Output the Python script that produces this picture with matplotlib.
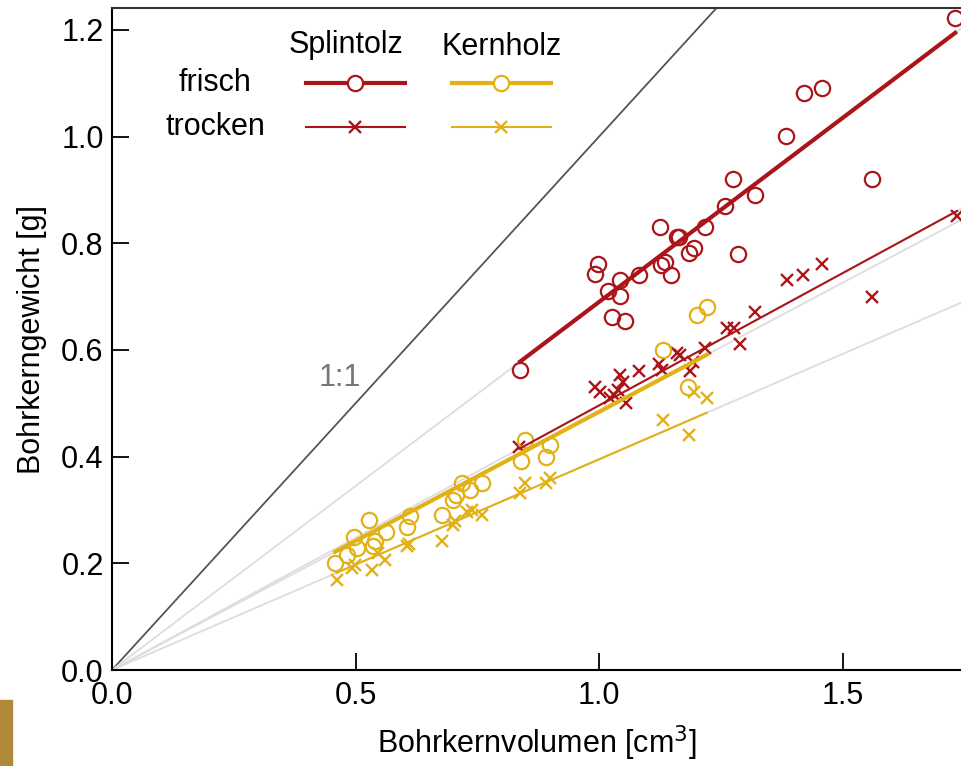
import numpy as np
import matplotlib
matplotlib.use('Agg')
from matplotlib import pyplot as plt
from matplotlib.patches import Rectangle

plt.rcParams['font.family'] = ['Liberation Sans', 'DejaVu Sans']

# Splintholz frisch (circles)
splint_frisch_x = [0.838, 0.992, 0.997, 1.043, 1.019, 1.042, 1.081, 1.127, 1.136, 1.147,
                   1.124, 1.159, 1.165, 1.194, 1.185, 1.218, 1.258, 1.274, 1.320, 1.286,
                   1.384, 1.421, 1.457, 1.560, 1.731, 1.026, 1.054]
splint_frisch_y = [0.562, 0.742, 0.761, 0.732, 0.710, 0.701, 0.741, 0.759, 0.765, 0.741,
                   0.830, 0.811, 0.811, 0.791, 0.781, 0.830, 0.870, 0.920, 0.891, 0.780,
                   1.001, 1.082, 1.091, 0.920, 1.222, 0.662, 0.655]
# Splintholz trocken (x)
splint_trocken_x = [0.836, 0.992, 1.002, 1.023, 1.039, 1.043, 1.055, 1.082, 1.123, 1.129,
                    1.160, 1.166, 1.187, 1.193, 1.218, 1.263, 1.277, 1.290, 1.320, 1.386,
                    1.419, 1.458, 1.561, 1.735, 1.030, 1.050]
splint_trocken_y = [0.418, 0.531, 0.521, 0.510, 0.525, 0.553, 0.501, 0.561, 0.574, 0.562,
                    0.594, 0.591, 0.561, 0.578, 0.604, 0.641, 0.641, 0.611, 0.672, 0.731,
                    0.741, 0.761, 0.699, 0.851, 0.515, 0.540]
# Kernholz frisch (circles)
kern_frisch_x = [0.458, 0.482, 0.496, 0.528, 0.502, 0.540, 0.535, 0.563, 0.605, 0.612,
                 0.677, 0.701, 0.706, 0.718, 0.735, 0.759, 0.848, 0.839, 0.892, 0.899,
                 1.132, 1.183, 1.201, 1.221]
kern_frisch_y = [0.201, 0.216, 0.250, 0.281, 0.228, 0.241, 0.233, 0.259, 0.269, 0.288,
                 0.291, 0.319, 0.328, 0.350, 0.338, 0.350, 0.431, 0.391, 0.400, 0.422,
                 0.600, 0.530, 0.666, 0.680]
# Kernholz trocken (x)
kern_trocken_x = [0.461, 0.492, 0.499, 0.533, 0.547, 0.561, 0.605, 0.610, 0.677, 0.701,
                  0.705, 0.728, 0.740, 0.759, 0.838, 0.848, 0.892, 0.899, 1.132, 1.185,
                  1.194, 1.221]
kern_trocken_y = [0.169, 0.191, 0.197, 0.188, 0.219, 0.207, 0.232, 0.236, 0.241, 0.272,
                  0.280, 0.296, 0.300, 0.291, 0.331, 0.350, 0.350, 0.359, 0.468, 0.441,
                  0.521, 0.509]

# slopes of the fits through the origin
slope_splint_frisch = 0.690
slope_splint_trocken = 0.496
slope_kern_frisch = 0.484
slope_kern_trocken = 0.395

red = '#ab1519'
gold = '#e2b118'
fs = 22

fig = plt.figure(figsize=(9.62, 7.66), dpi=100)
ax = fig.add_axes([112/962, 96/766, 850/962, 662/766])
ax.set_xlim(0, 1.745)
ax.set_ylim(0, 1.241)

xx = np.array([0, 1.745])
ax.plot([0, 1.241], [0, 1.241], color='#555555', lw=1.3, zorder=1)
for s in [slope_splint_frisch, slope_splint_trocken, slope_kern_frisch, slope_kern_trocken]:
    ax.plot(xx, s*xx, color='#dddddd', lw=1.3, zorder=1)
ax.text(0.468, 0.548, '1:1', color='#777777', fontsize=fs, ha='center', va='center')

groups = [
    (splint_frisch_x, splint_frisch_y, slope_splint_frisch, red, 'o', 3.0),
    (splint_trocken_x, splint_trocken_y, slope_splint_trocken, red, 'x', 1.5),
    (kern_frisch_x, kern_frisch_y, slope_kern_frisch, gold, 'o', 3.0),
    (kern_trocken_x, kern_trocken_y, slope_kern_trocken, gold, 'x', 1.5),
]
for gx, gy, s, c, m, lw in groups:
    gx = np.array(gx)
    if m == 'o':
        ax.plot(gx, gy, ls='none', marker='o', ms=11, mfc='none', mec=c, mew=1.6, zorder=3)
    else:
        ax.plot(gx, gy, ls='none', marker='x', ms=8.5, mec=c, mew=1.7, zorder=3)
    xr = np.array([gx.min(), gx.max()])
    ax.plot(xr, s*xr, color=c, lw=lw, zorder=4)

# legend built by hand
ax.text(0.481, 1.172, 'Splintolz', fontsize=fs, ha='center', va='center')
ax.text(0.800, 1.168, 'Kernholz', fontsize=fs, ha='center', va='center')
ax.text(0.2115, 1.101, 'frisch', fontsize=fs, ha='center', va='center')
ax.text(0.2115, 1.018, 'trocken', fontsize=fs, ha='center', va='center')
for x0, c in [(0.398, red), (0.698, gold)]:
    ax.plot([x0, x0 + 0.203], [1.101, 1.101], color=c, lw=3.0)
    ax.plot([x0 + 0.1015], [1.101], marker='o', ms=11, mfc='white', mec=c, mew=1.6)
    ax.plot([x0, x0 + 0.203], [1.018, 1.018], color=c, lw=1.5)
    ax.plot([x0 + 0.1015], [1.018], marker='x', ms=8.5, mec=c, mew=1.7)

ax.spines['right'].set_visible(False)
for sp in ['left', 'bottom', 'top']:
    ax.spines[sp].set_linewidth(1.5)
ax.spines['top'].set_color('#333333')
ax.set_xticks([0.0, 0.5, 1.0, 1.5])
ax.set_yticks([0.0, 0.2, 0.4, 0.6, 0.8, 1.0, 1.2])
ax.xaxis.set_major_formatter(matplotlib.ticker.FormatStrFormatter('%.1f'))
ax.yaxis.set_major_formatter(matplotlib.ticker.FormatStrFormatter('%.1f'))
ax.tick_params(direction='in', length=12, width=1.3, labelsize=fs, top=False, right=False)
ax.tick_params(axis='x', pad=8)
ax.tick_params(axis='y', pad=6)
ax.set_xlabel('Bohrkernvolumen [cm$^3$]', fontsize=fs, labelpad=9)
ax.set_ylabel('Bohrkerngewicht [g]', fontsize=fs, labelpad=10)

fig.patches.append(Rectangle((0, 0), 12/962, 66/766, transform=fig.transFigure,
                             color='#b08a3a', zorder=0))

plt.savefig('out.png', dpi=100)
